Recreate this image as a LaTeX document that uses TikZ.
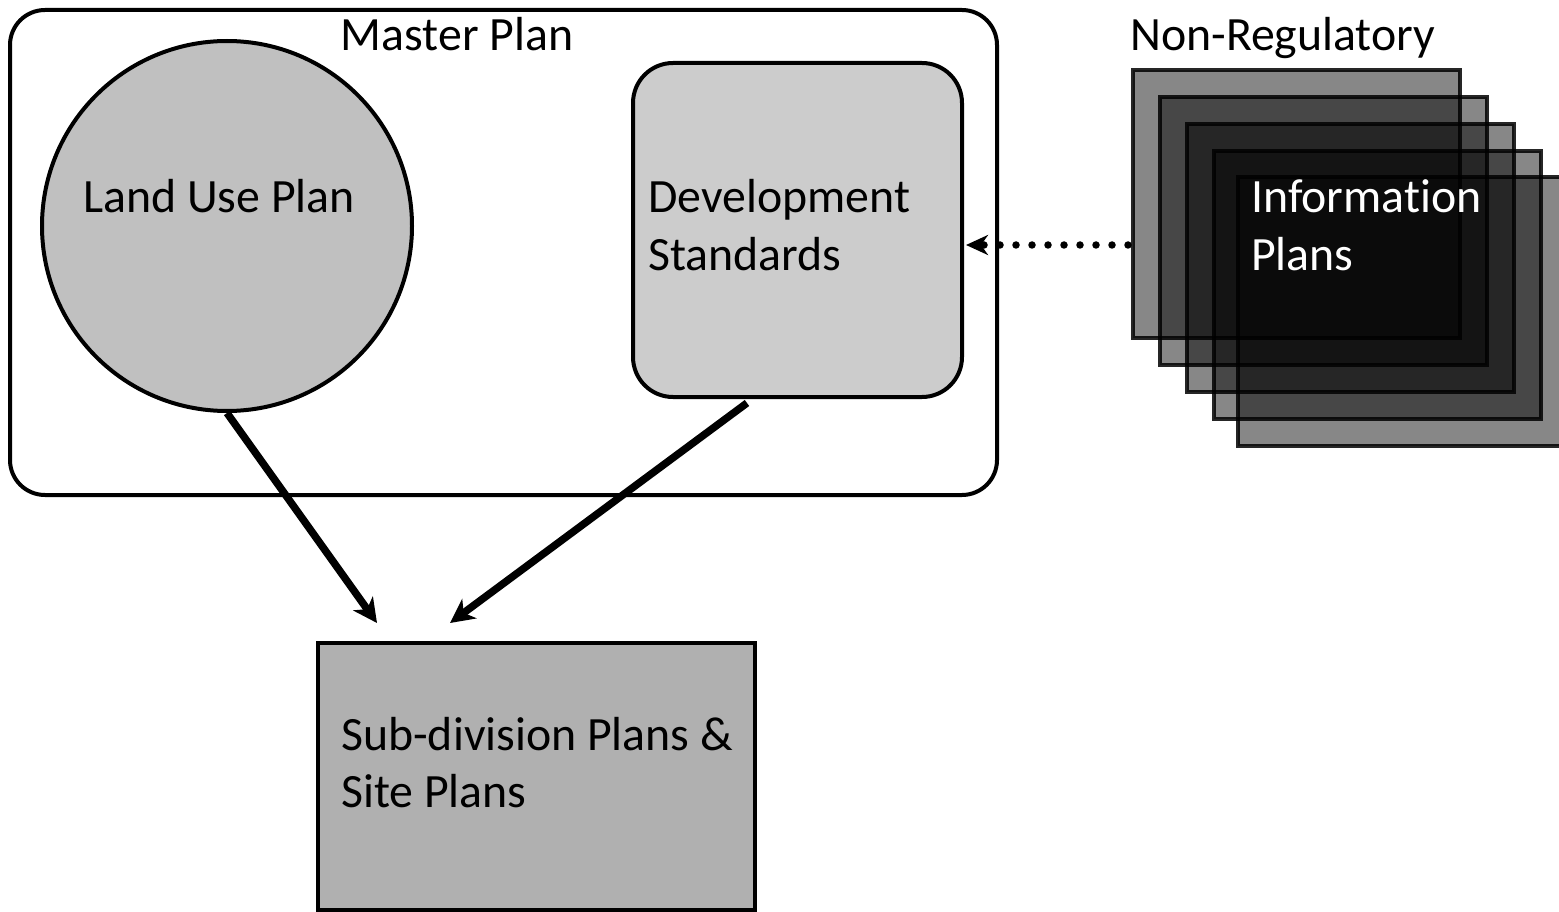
\documentclass[tikz,border=0pt]{standalone}
\usepackage{fontspec}
\setmainfont{Carlito}[Ligatures={NoCommon,NoContextual,NoRare}]
\usetikzlibrary{arrows.meta}
\begin{document}
\begin{tikzpicture}[x=1pt,y=-1pt,
  txt/.style={inner sep=0pt,font=\fontsize{47.8}{58}\selectfont},
  boxline/.style={draw=black,line width=4pt},
  layer/.style={draw=black,draw opacity=0.85,line width=4pt,fill=black,fill opacity=0.47,minimum width=327pt,minimum height=268pt,inner sep=0pt},
  bigarrow/.style={line width=7.5pt,-{Stealth[length=24pt,width=24pt,inset=7pt]}},
  dotarrow/.style={line width=7.5pt,line cap=round,dash pattern=on 0pt off 16pt,-{Stealth[length=22pt,width=20pt,inset=7pt,line cap=butt]}}
]
\useasboundingbox (0,0) rectangle (1559,912);
% master plan frame
\node[boxline,rounded corners=35pt,minimum width=987pt,minimum height=485pt,inner sep=0pt] (mp) at (503.5,252.5) {};
\node[txt,anchor=base] (mpl) at (457,51) {Master Plan};
% land use circle
\node[boxline,circle,fill={rgb,255:red,192;green,192;blue,192},minimum size=370pt,inner sep=0pt] (lu) at (227,226) {};
\node[txt,anchor=base west] (lut) at (83,213) {Land Use Plan};
% development standards
\node[boxline,rounded corners=40pt,fill={rgb,255:red,204;green,204;blue,204},minimum width=329pt,minimum height=334pt,inner sep=0pt] (ds) at (797.5,230) {};
\node[txt,anchor=base west] (dst1) at (648,213) {Development};
\node[txt,anchor=base west] (dst2) at (648,271) {Standards};
% subdivision
\node[boxline,fill={rgb,255:red,176;green,176;blue,176},minimum width=437pt,minimum height=267pt,inner sep=0pt] (sub) at (536.5,776.5) {};
\node[txt,anchor=base west] (subt1) at (341,750) {Sub-division Plans \&};
\node[txt,anchor=base west] (subt2) at (341,807) {Site Plans};
% non-regulatory stack
\node[txt,anchor=base west] (nrl) at (1130,51) {Non-Regulatory};
\node[layer] (ip1) at (1296.5,204) {};
\node[layer] (ip2) at (1323.5,231) {};
\node[layer] (ip3) at (1350.5,258) {};
\node[layer] (ip4) at (1377.5,285) {};
\node[layer] (ip5) at (1401.5,311.5) {};
\node[txt,anchor=base west,text=white] (ipt1) at (1251,213) {Information};
\node[txt,anchor=base west,text=white] (ipt2) at (1251,271) {Plans};
% connectors
\coordinate (e1) at (377,623);
\coordinate (s2) at (747,403);
\coordinate (e2) at (450,623);
\coordinate (d1) at (1128,245);
\coordinate (d2) at (966,245);
\draw[bigarrow] (lu.south) -- (e1);
\draw[bigarrow] (s2) -- (e2);
\draw[dotarrow] (d1) -- (d2);
\end{tikzpicture}
\end{document}
